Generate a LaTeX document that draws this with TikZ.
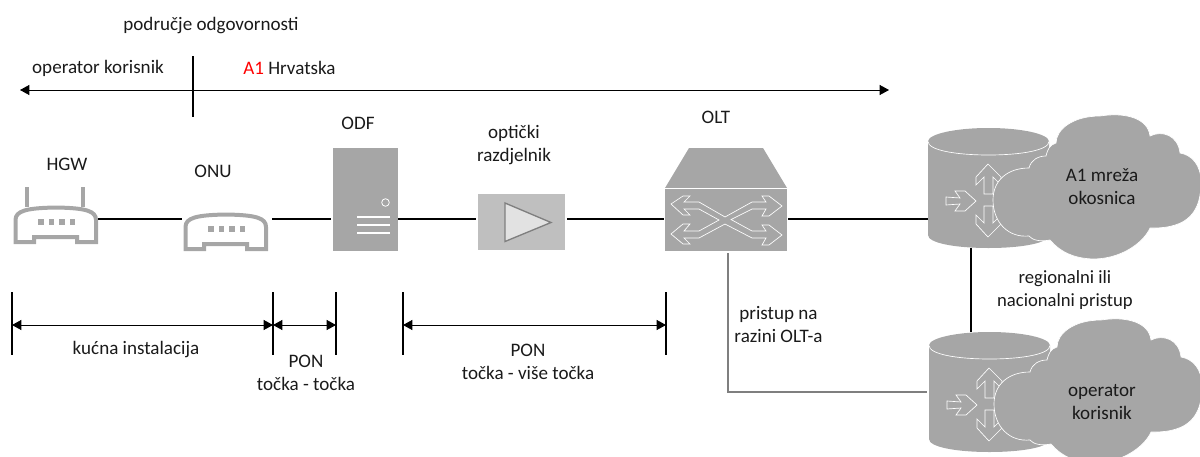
\documentclass[tikz,border=0pt]{standalone}
\usepackage{fontspec}
\setmainfont{Carlito}
\usetikzlibrary{arrows.meta,calc}
\definecolor{icongray}{HTML}{A6A6A6}
\definecolor{splitgray}{HTML}{BFBFBF}
\definecolor{trifill}{HTML}{E2E2E2}
\definecolor{wireg}{HTML}{7F7F7F}
\definecolor{txt}{HTML}{1A1A1A}
\tikzset{
  x=0.75pt,y=-0.75pt,
  lbl/.style={font=\fontsize{14.3}{17.25}\selectfont,text=txt,inner sep=0pt,align=center},
  box/.style n args={2}{inner sep=0pt,outer sep=0pt,minimum width=#1*0.75pt,minimum height=#2*0.75pt},
  wire/.style={draw=black,line width=0.9pt},
  dim/.style={draw=black,line width=0.6pt,{Triangle[length=7pt,width=7.5pt]}-{Triangle[length=7pt,width=7.5pt]}},
  tick/.style={draw=black,line width=0.9pt},
  iconline/.style={draw=white,line width=0.5pt},
  routerbody/.style={draw=icongray,line width=3pt,line join=miter,fill=white},
  dots/.style={fill=icongray,draw=none}
}
\newcommand{\routerbody}[2]{% x-left, y-top offset
  \begin{scope}[shift={(#1,#2)}]
  \draw[routerbody] (1.5,40) -- (1.5,18) .. controls (1.5,9) and (12,6) .. (42,5.5) .. controls (72,6) and (82,9) .. (82,18) -- (82,40) -- (63,40) -- (63,35) -- (20,35) -- (20,40) -- cycle;
  \foreach \k in {0,10.5,21,31.5}{\fill[dots] (24+\k,17) rectangle ++(5.5,5.5);}
  \end{scope}}
\newcommand{\cylcloud}[2]{%
  \begin{scope}[shift={(#1,#2)}]
  % cylinder
  \fill[icongray] (928,141.5) -- (928,235) .. controls (928,243) and (955,248) .. (988.5,248) .. controls (1022,248) and (1049,243) .. (1049,235) -- (1049,141.5) -- cycle;
  \fill[icongray] (988.5,141.5) ellipse [x radius=60.5,y radius=13.5];
  \draw[iconline] (928,141.5) .. controls (928,150) and (955,155) .. (988.5,155) .. controls (1022,155) and (1049,150) .. (1049,141.5);
  % arrows
  \draw[iconline] (946,197) -- (960,198) -- (955,191) -- (965,191) -- (976,201) -- (965,211) -- (955,211) -- (960,204) -- (946,205) -- cycle;
  \draw[iconline] (988,164) -- (1001,177) -- (1001,185) -- (993,177) -- (993,194) -- (984,194) -- (984,177) -- (976,185) -- (976,177) -- cycle;
  \draw[iconline] (984,206) -- (993,206) -- (993,223) -- (1001,215) -- (1001,224) -- (988,237) -- (976,224) -- (976,215) -- (984,223) -- cycle;
  % cloud
  \draw[iconline,fill=icongray]
    (993,200) .. controls (993,180) and (1008,168) .. (1029,168)
    .. controls (1031,160) and (1038,156) .. (1046,156)
    .. controls (1048,148) and (1050,145) .. (1056,143)
    .. controls (1056,130) and (1072,116) .. (1100,116)
    .. controls (1125,112) and (1148,118) .. (1150,136)
    .. controls (1162,130) and (1178,135) .. (1180,153)
    .. controls (1192,155) and (1201,165) .. (1201,182)
    .. controls (1201,210) and (1190,229) .. (1150,228)
    .. controls (1145,240) and (1125,258) .. (1095,259)
    .. controls (1075,259) and (1060,252) .. (1050,240)
    .. controls (1040,242) and (1032,240) .. (1029,236)
    .. controls (1008,238) and (993,222) .. (993,200) -- cycle;
  \end{scope}}
\begin{document}
\begin{tikzpicture}
\useasboundingbox (0,0) rectangle (1200,457);
\coordinate (bus) at (0,219);
% top
\node[lbl] (resp) at (211,26) {područje odgovornosti};
\node[lbl] (opk) at (98,68) {operator korisnik};
\node[lbl,anchor=west] (a1h) at (243,68) {\textcolor{red}{A1} Hrvatska};
\coordinate (tl) at (20,90); \coordinate (tr) at (889,90);
\draw[dim] (tl) -- (tr);
\coordinate (vt) at (193,56); \coordinate (vb) at (193,117);
\draw[tick] (vt) -- (vb);
% icon nodes
\node[box={84}{60}] (hgw) at (56,215) {};
\node[box={90}{42}] (onu) at (227,228) {};
\node[box={67}{103}] (odf) at (364.5,199.5) {};
\node[box={91}{56}] (spl) at (521.5,222) {};
\node[box={124}{103}] (olt) at (726,199.5) {};
\node[box={121}{120}] (c1) at (988.5,188) {};
\node[box={121}{120}] (c2) at (989.5,392) {};
% icons
\draw[icongray,line width=3pt] (27,187) -- (27,207);
\draw[icongray,line width=3pt] (83,187) -- (83,207);
\routerbody{14}{202}
\routerbody{184}{209}
\fill[icongray] (333,148) rectangle (398,251);
\draw[white,line width=0.6pt] (385.5,202.5) circle (3.8);
\foreach \yy in {217,225,233}{\draw[white,line width=2pt] (357,\yy) -- (390,\yy);}
\fill[splitgray] (478,194) rectangle (565,250);
\draw[fill=trifill,draw=wireg,line width=1pt] (505,203) -- (551,222.5) -- (505,241.5) -- cycle;
\fill[icongray] (689,148) -- (763,148) -- (787,188) -- (665,188) -- cycle;
\fill[icongray] (665,188) rectangle (787,251);
\draw[iconline] (665,188) -- (787,188);
\begin{scope}[iconline]
\draw (671,204) -- (683,196) -- (690,196) -- (684,202) -- (699,202) -- (725,217) -- (752,202) -- (766,202) -- (762,196) -- (769,196) -- (782,206) -- (769,216) -- (762,216) -- (766,209) -- (752,209) -- (731,219.5) -- (752,231) -- (766,231) -- (762,225) -- (769,225) -- (782,235) -- (769,245) -- (762,245) -- (766,238) -- (752,238) -- (725,224) -- (699,238) -- (684,238) -- (690,244) -- (683,244) -- (671,234) -- (683,224) -- (690,224) -- (684,231) -- (699,231) -- (719,220) -- (699,209) -- (684,209) -- (690,215) -- (683,215) -- cycle;
\end{scope}
\cylcloud{0}{0}
\cylcloud{1}{204}
% labels
\node[lbl] (hgwl) at (67,164) {HGW};
\node[lbl] (onul) at (213,171) {ONU};
\node[lbl] (odfl) at (358,123) {ODF};
\node[lbl] (spll) at (514,145.5) {optički\\razdjelnik};
\node[lbl] (oltl) at (716,117) {OLT};
% connectors
\draw[wire] (hgw.east |- bus) -- (onu.west |- bus);
\draw[wire] (onu.east |- bus) -- (odf.west |- bus);
\draw[wire] (odf.east |- bus) -- (spl.west |- bus);
\draw[wire] (spl.east |- bus) -- (olt.west |- bus);
\draw[wire] (olt.east |- bus) -- (c1.west |- bus);
\coordinate (v1) at (971,248); \coordinate (v2) at (971,332);
\draw[wire] (v1) -- (v2);
\coordinate (oltdrop) at (728,253);
\coordinate (c2in) at (927,392);
\draw[draw=wireg,line width=0.9pt] (oltdrop) |- (c2in);
% dimension lines
\foreach \n/\xx in {a/12,b/273,c/336,d/403,e/666}{
  \coordinate (\n t) at (\xx,292); \coordinate (\n b) at (\xx,355);
  \draw[tick] (\n t) -- (\n b);
  \coordinate (\n m) at (\xx,325);
}
\draw[dim] (am) -- (bm);
\draw[dim] (bm) -- (cm);
\draw[dim] (dm) -- (em);
\node[lbl] (kuc) at (136,350) {kućna instalacija};
\node[lbl] (pp) at (306,372.5) {PON\\točka - točka};
\node[lbl] (pv) at (528,361.5) {PON\\točka - više točka};
\node[lbl] (pr) at (778.5,324.5) {pristup na\\razini OLT-a};
\node[lbl,font=\fontsize{14}{17.25}\selectfont] (reg) at (1065,290) {regionalni ili\\nacionalni pristup};
\node[lbl] (a1m) at (1102,186.5) {A1 mreža\\okosnica};
\node[lbl] (opk2) at (1102,402.5) {operator\\korisnik};
\end{tikzpicture}
\end{document}
